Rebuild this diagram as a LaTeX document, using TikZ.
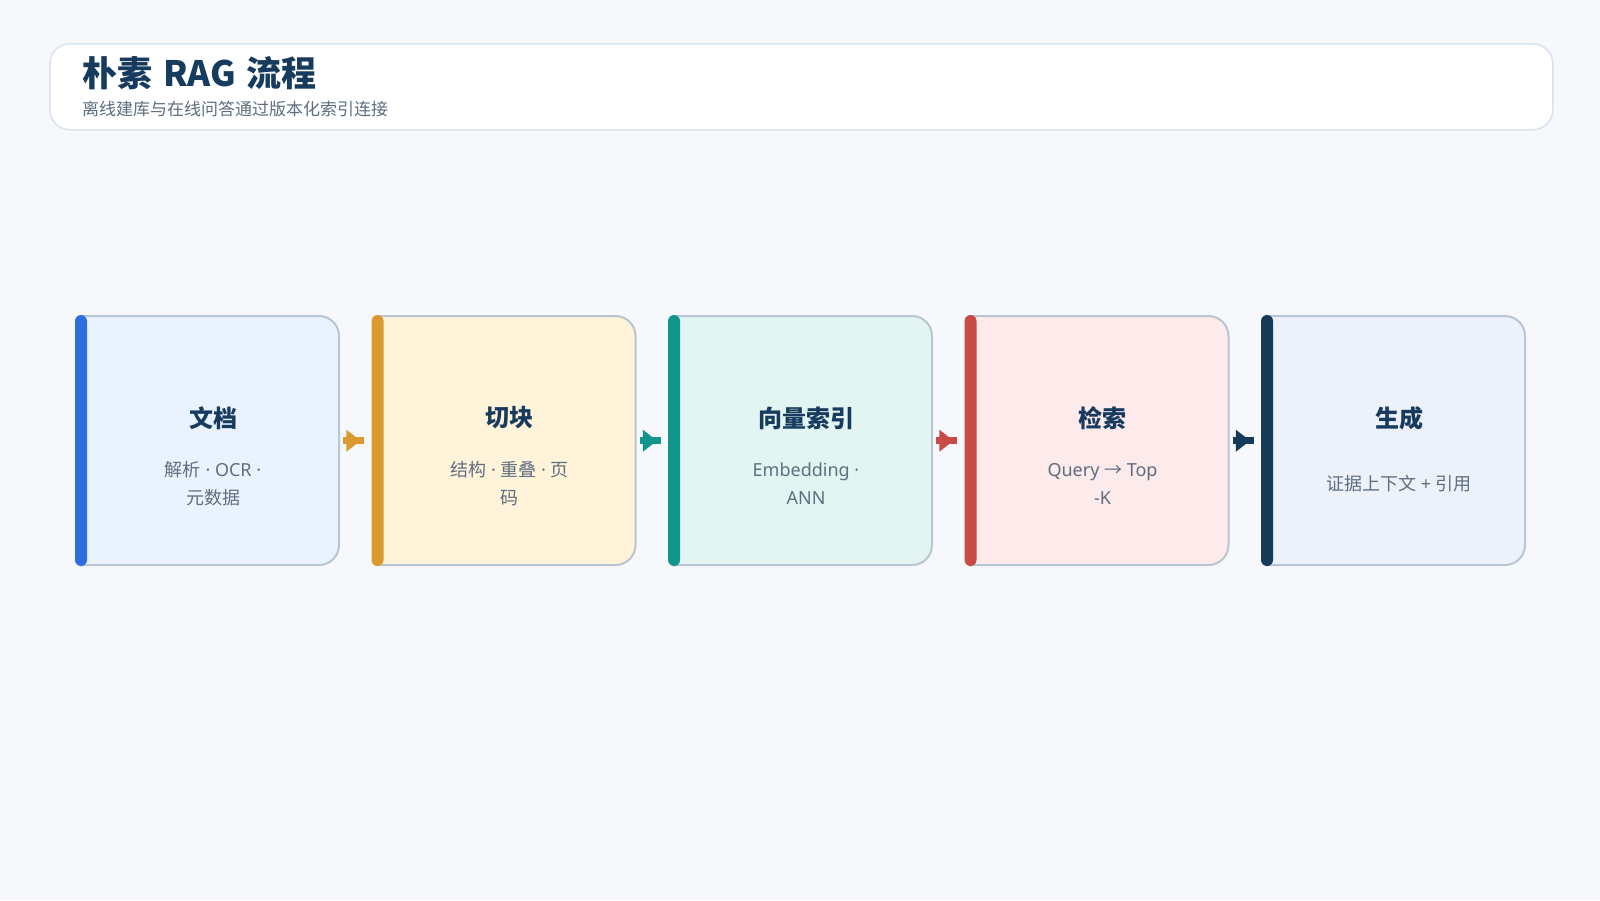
\documentclass[tikz,border=0pt]{standalone}
\usepackage{fontspec}
\setmainfont{Noto Sans}
\newfontfamily\cjk{Noto Sans CJK SC}
\definecolor{bg}{HTML}{F6F8FC}
\definecolor{hdrline}{HTML}{D9E3EE}
\definecolor{navy}{HTML}{173B5E}
\definecolor{subgray}{HTML}{5E6E80}
\definecolor{boxline}{HTML}{B8C6D4}
\definecolor{f0}{HTML}{EAF2FE}\definecolor{c0}{HTML}{2F6EDF}
\definecolor{f1}{HTML}{FFF3D9}\definecolor{c1}{HTML}{DA9A2F}
\definecolor{f2}{HTML}{E3F5F2}\definecolor{c2}{HTML}{12958A}
\definecolor{f3}{HTML}{FDEAEA}\definecolor{c3}{HTML}{C84B45}
\definecolor{f4}{HTML}{EDF1FA}\definecolor{c4}{HTML}{163A5A}
\tikzset{
  headerbox/.style={draw=hdrline, line width=1.5pt, fill=white, rounded corners=20pt,
    minimum width=1503pt, minimum height=86pt, anchor=north west, inner sep=0pt},
  headtitle/.style={anchor=west, inner sep=0pt, text=navy, font=\cjk\fontsize{35}{40}\selectfont\bfseries},
  headsub/.style={anchor=west, inner sep=0pt, text=subgray, font=\fontsize{17}{20}\selectfont},
  boxanchor/.style={anchor=north west, minimum width=264pt, minimum height=251pt, inner sep=0pt},
  boxshape/.style={draw=boxline, line width=2pt},
  boxtitle/.style={inner sep=0pt, text=navy, font=\fontsize{24}{28}\selectfont\bfseries},
  boxsub/.style={inner sep=0pt, text=subgray, align=center, font=\fontsize{18}{28}\selectfont},
  stem/.style={line width=7pt}
}
\begin{document}
\begin{tikzpicture}[x=1pt,y=1pt]
\fill[bg] (0,0) rectangle (1600,-900);
\useasboundingbox (0,0) rectangle (1600,-900);
% header
\node[headerbox] (header) at (49,-43) {};
\node[headtitle] (htitle) at (82,-73) {朴素\hspace{11pt}RAG\hspace{11pt}流程};
\node[headsub] (hsub) at (82,-109) {\cjk 离线建库与在线问答通过版本化索引连接};
% boxes
\foreach \i/\t/\s in {0/文档/{{\cjk 解析} · OCR ·\\{\cjk 元数据}},
                      1/切块/{{\cjk 结构} · {\cjk 重叠} · {\cjk 页}\\{\cjk 码}},
                      2/向量索引/{Embedding ·\\ANN},
                      3/检索/{Query {\cjk →} Top\\-K},
                      4/生成/{{\cjk 证据上下文} + {\cjk 引用}}}{
  \pgfmathsetmacro\L{75+296.5*\i}
  \pgfmathsetmacro\R{\L+264}
  \node[boxanchor] (box\i) at (\L,-315) {};
  \draw[boxshape, fill=f\i] (\L+6,-316) -- (\R-20,-316)
     arc[start angle=90,end angle=0,radius=20] -- (\R,-545)
     arc[start angle=0,end angle=-90,radius=20] -- (\L+6,-565) -- cycle;
  \fill[c\i, rounded corners=6pt] (\L,-315) rectangle (\L+12,-566);
  \node[boxtitle] (t\i) at (\L+138,-418) {\cjk\t};
  \node[boxsub] (s\i) at (\L+138,-484) {\s};
}
% arrows
\foreach \i/\j in {0/1,1/2,2/3,3/4}{
  \draw[stem, c\j, shorten <=4pt, shorten >=7.5pt] (box\i.east) -- (box\j.west);
  \fill[c\j] ([xshift=7pt,yshift=11pt]box\i.east) -- ([xshift=21pt]box\i.east)
     -- ([xshift=7pt,yshift=-11pt]box\i.east) -- cycle;
}
\end{tikzpicture}
\end{document}
